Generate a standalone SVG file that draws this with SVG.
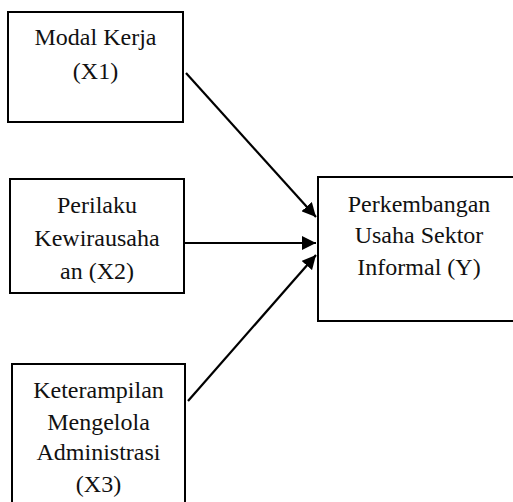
<svg xmlns="http://www.w3.org/2000/svg" width="513" height="502" viewBox="0 0 513 502">
<style>
.box{fill:#fff;stroke:#000;stroke-width:2}
.t{font-family:"Liberation Serif","Times New Roman",serif;font-size:24px;fill:#111;text-anchor:middle}
.c{stroke:#000;stroke-width:2.2;fill:none;marker-end:url(#ah)}
</style>
<defs>
<marker id="ah" viewBox="0 0 14 14" refX="14" refY="7" markerWidth="14" markerHeight="14" markerUnits="userSpaceOnUse" orient="auto">
<path d="M0,0 L14,7 L0,14 Z" fill="#000"/>
</marker>
<clipPath id="clip2"><rect x="10" y="179" width="174" height="104"/></clipPath>
</defs>
<rect width="513" height="502" fill="#fff"/>
<g id="x1">
<rect class="box" x="8" y="12" width="175" height="110"/>
<text class="t" x="95.5" y="45">Modal Kerja</text>
<text class="t" x="95.5" y="79">(X1)</text>
</g>
<g id="x2">
<rect class="box" x="10" y="179" width="174" height="114"/>
<text class="t" x="97" y="213">Perilaku</text>
<text class="t" x="97" y="246">Kewirausaha</text>
<text class="t" x="97" y="279" clip-path="url(#clip2)">an (X2)</text>
</g>
<g id="x3">
<rect class="box" x="12" y="364" width="173" height="150"/>
<text class="t" x="98.5" y="398">Keterampilan</text>
<text class="t" x="98.5" y="430">Mengelola</text>
<text class="t" x="98.5" y="460">Administrasi</text>
<text class="t" x="98.5" y="492">(X3)</text>
</g>
<g id="y">
<rect class="box" x="318" y="177" width="210" height="144"/>
<text class="t" x="419" y="212">Perkembangan</text>
<text class="t" x="419" y="243">Usaha Sektor</text>
<text class="t" x="419" y="275">Informal (Y)</text>
</g>
<g id="connectors">
<line class="c" x1="186" y1="73" x2="316" y2="217"/>
<line class="c" x1="184" y1="243" x2="316" y2="243"/>
<line class="c" x1="188" y1="401" x2="316" y2="255"/>
</g>
</svg>
